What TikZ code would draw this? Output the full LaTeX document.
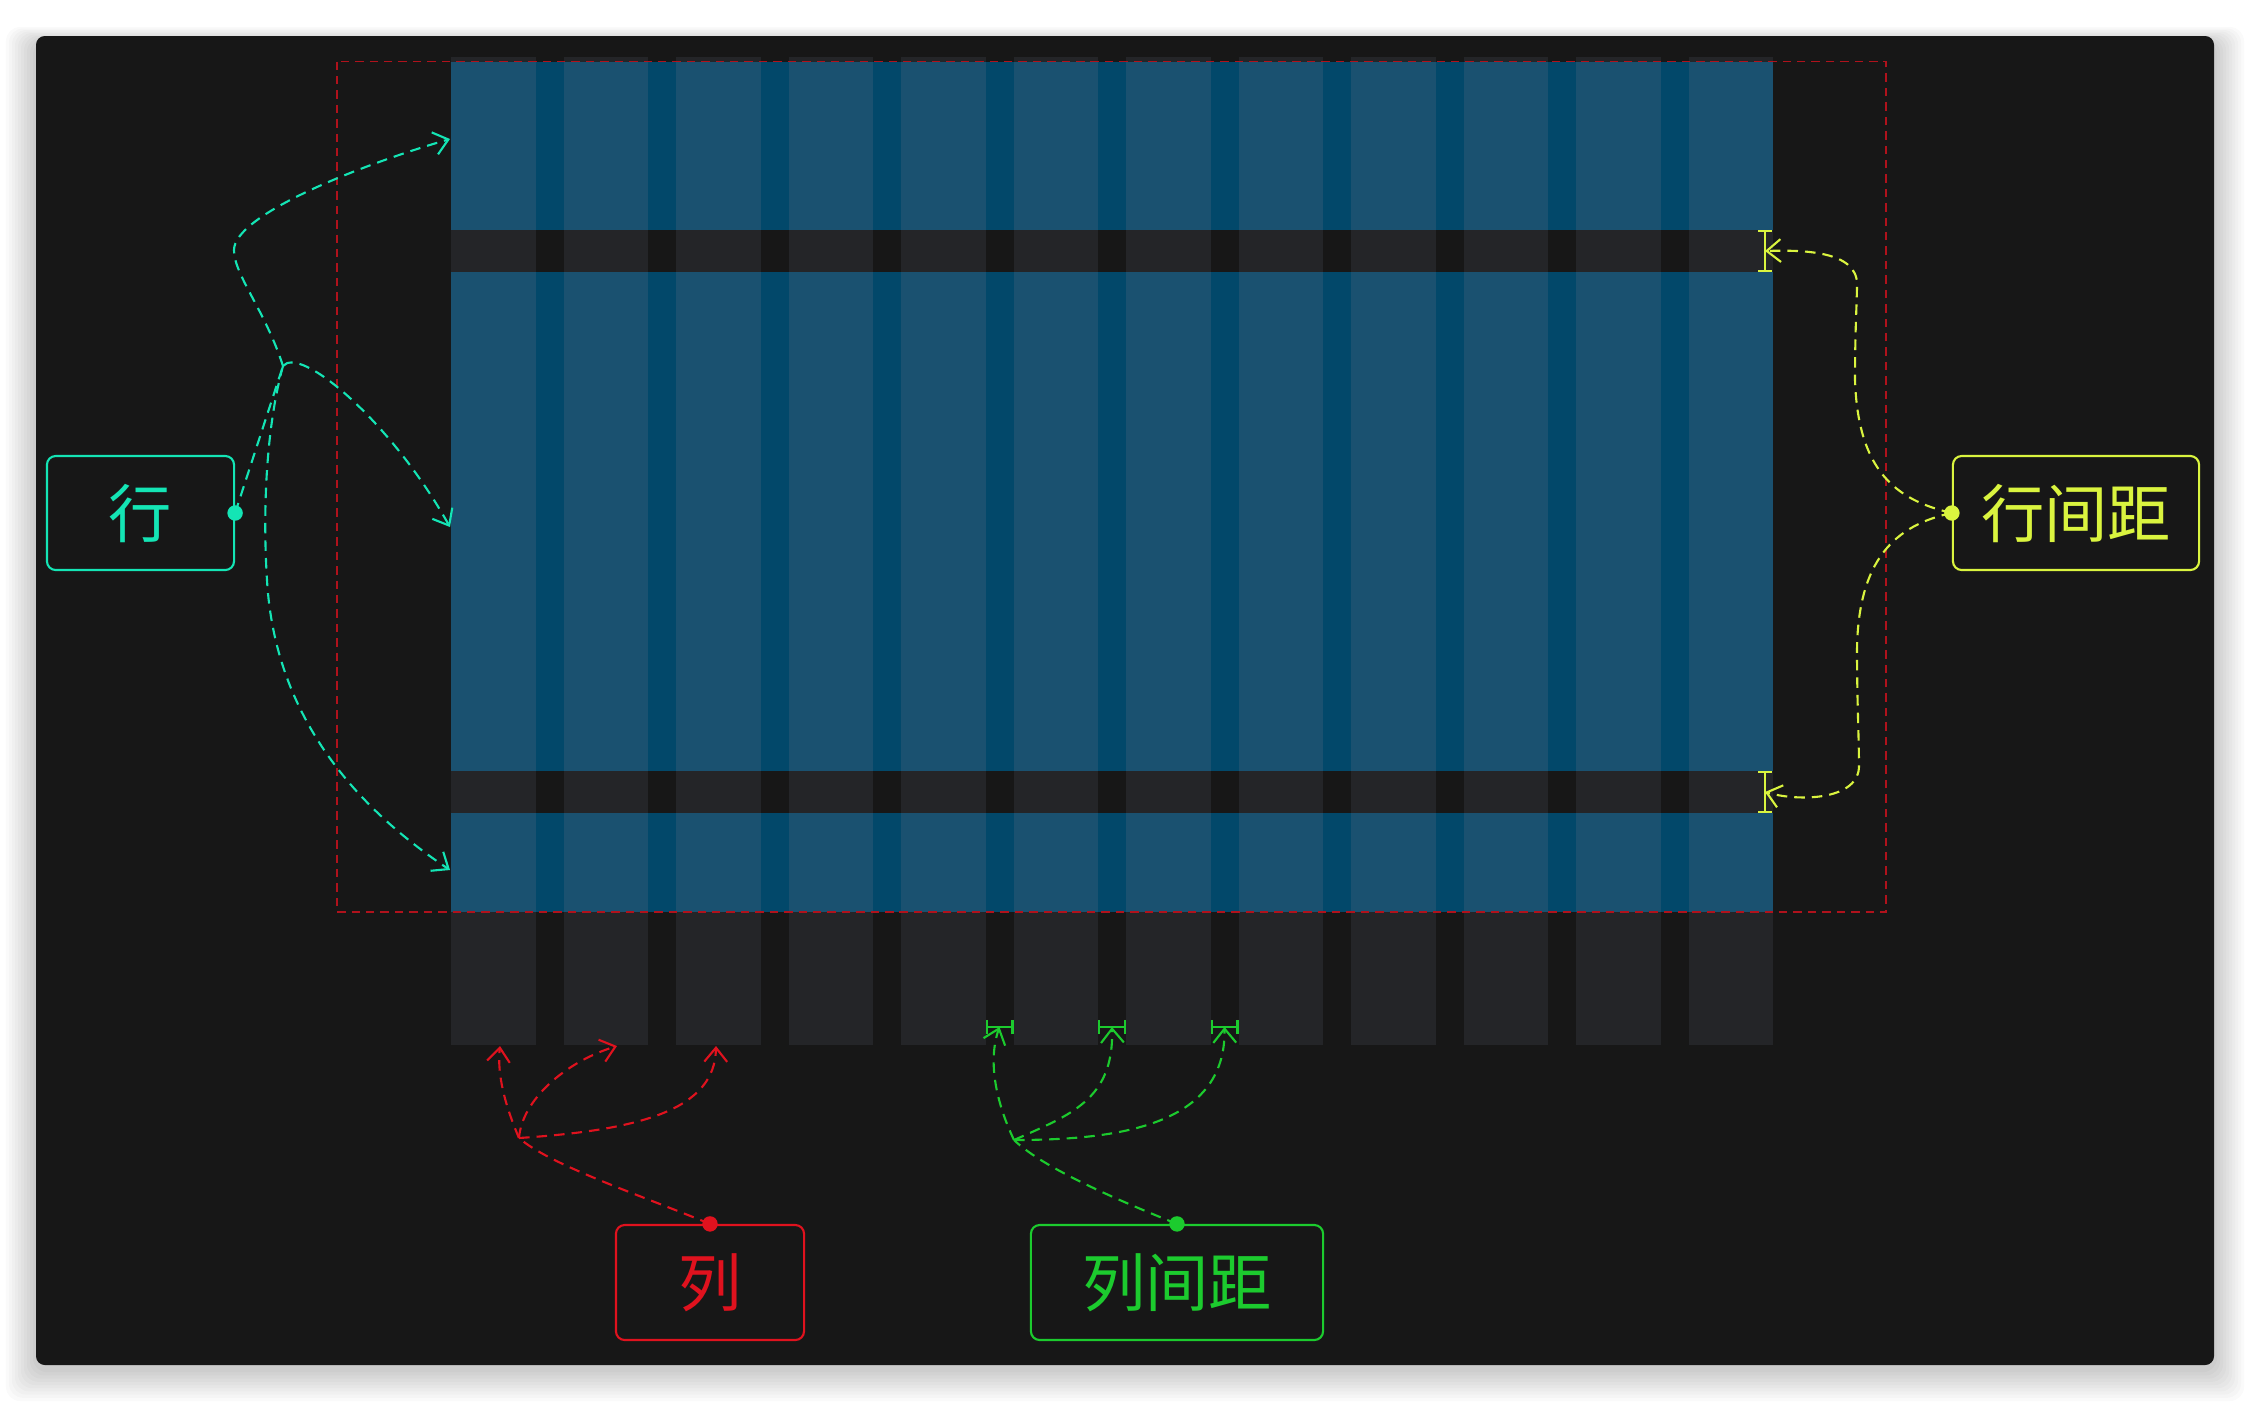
\documentclass[tikz,border=0pt]{standalone}
\usepackage{fontspec}
\newfontfamily\cjk{Noto Sans CJK SC}
\usetikzlibrary{arrows.meta}
\definecolor{canvas}{HTML}{171717}
\definecolor{track}{HTML}{242528}
\definecolor{cell}{HTML}{1A5170}
\definecolor{lane}{HTML}{02486A}
\definecolor{rowc}{HTML}{14E5B5}
\definecolor{gapy}{HTML}{DAF43F}
\definecolor{colc}{HTML}{E0121E}
\definecolor{gapg}{HTML}{1CCB2E}
\definecolor{frame}{HTML}{B0121C}
\tikzset{
  lbox/.style={draw=#1, text=#1, line width=0.6pt, rounded corners=2.5pt, inner sep=0pt,
    font=\cjk\fontsize{18}{21}\selectfont},
  link/.style={draw=#1, line width=0.6pt, dash pattern=on 3pt off 2pt,
    -{Straight Barb[length=4pt,width=6.5pt]}},
  stem/.style={draw=#1, line width=0.6pt, dash pattern=on 3pt off 2pt},
  gapmark/.style={draw=#1, line width=0.6pt, {Bar[width=4pt]}-{Bar[width=4pt]}}
}

\begin{document}
\begin{tikzpicture}[x=0.01cm, y=-0.01cm]
          \useasboundingbox (0,0) rectangle (2250,1402);
          \fill[white] (0,0) rectangle (2250,1402);
          \foreach \s in {1,...,10}
            \fill[black, opacity=0.02, rounded corners=4pt] ({36-3*\s},{42-1.5*\s}) rectangle ({2214+3*\s},{1369+3.2*\s});
          \fill[canvas, rounded corners=2.5pt] (36,36) rectangle (2214,1365);
          \foreach \i in {0,...,11}
            \fill[track] ({451+112.5*\i},57) rectangle ({535.5+112.5*\i},1045);
          \foreach \ya/\yb in {62/230, 272/771, 813/912} {
            \fill[lane] (451,\ya) rectangle (1773,\yb);
            \foreach \i in {0,...,11}
              \fill[cell] ({451+112.5*\i},\ya) rectangle ({535.5+112.5*\i},\yb);
          }
          \draw[frame, line width=0.45pt, dash pattern=on 2.4pt off 1.7pt] (337,61.5) rectangle (1886,912);

          \draw[gapmark=gapy] (1765,230) -- coordinate (rgtip1) (1765,272);
          \draw[gapmark=gapy] (1765,771) -- coordinate (rgtip2) (1765,813);
          \draw[gapmark=gapg] (985.5,1027) -- coordinate (cgtip1) (1013.5,1027);
          \draw[gapmark=gapg] (1098,1027) -- coordinate (cgtip2) (1126,1027);
          \draw[gapmark=gapg] (1210.5,1027) -- coordinate (cgtip3) (1238.5,1027);

          \node[lbox=rowc, minimum width=1.87cm, minimum height=1.14cm] (rowbox) at (140.5,513) {行};
          \node[lbox=gapy, minimum width=2.46cm, minimum height=1.14cm] (rgapbox) at (2076,513) {行间距};
          \node[lbox=colc, minimum width=1.88cm, minimum height=1.15cm] (colbox) at (710,1282.5) {列};
          \node[lbox=gapg, minimum width=2.92cm, minimum height=1.15cm] (cgapbox) at (1177,1282.5) {列间距};

          \coordinate (rowdot) at (rowbox.east);
          \coordinate (rgapdot) at (rgapbox.west);
          \coordinate (coldot) at (colbox.north);
          \coordinate (cgapdot) at (cgapbox.north);
          \coordinate (rowfork) at (283,366);
          \coordinate (colfork) at (519,1138);
          \coordinate (cgapfork) at (1014,1140);
          \coordinate (rowtip1) at (450,139);
          \coordinate (rowtip2) at (450,527);
          \coordinate (rowtip3) at (450,870);
          \coordinate (coltip1) at (500,1046);
          \coordinate (coltip2) at (617,1046);
          \coordinate (coltip3) at (716,1046);

          \draw[stem=rowc] (rowdot) -- (rowfork);
          \draw[link=rowc] (rowfork) .. controls (265,310) and (234,275) .. (234,250)
            .. controls (234,215) and (360,165) .. (rowtip1);
          \draw[link=rowc] (rowfork) .. controls (300,345) and (390,420) .. (rowtip2);
          \draw[link=rowc] (rowfork) .. controls (268,420) and (262,500) .. (267,580)
            .. controls (275,720) and (360,810) .. (rowtip3);

          \draw[stem=colc] (coldot) .. controls (640,1195) and (550,1165) .. (colfork);
          \draw[link=colc] (colfork) .. controls (505,1105) and (497,1075) .. (coltip1);
          \draw[link=colc] (colfork) .. controls (522,1100) and (565,1062) .. (coltip2);
          \draw[link=colc] (colfork) .. controls (640,1130) and (715,1110) .. (coltip3);

          \draw[stem=gapg] (cgapdot) .. controls (1130,1205) and (1045,1170) .. (cgapfork);
          \draw[link=gapg] (cgapfork) .. controls (995,1100) and (988,1060) .. (cgtip1);
          \draw[link=gapg] (cgapfork) .. controls (1070,1115) and (1114,1100) .. (cgtip2);
          \draw[link=gapg] (cgapfork) .. controls (1120,1140) and (1226,1125) .. (cgtip3);

          \draw[link=gapy] (rgapdot) .. controls (1895,500) and (1858,470) .. (1855,380)
            .. controls (1855,330) and (1857,300) .. (1857,285)
            .. controls (1858,250) and (1800,250) .. (rgtip1);
          \draw[link=gapy] (rgapdot) .. controls (1895,525) and (1858,560) .. (1857,650)
            .. controls (1857,700) and (1859,740) .. (1859,765)
            .. controls (1860,800) and (1800,802) .. (rgtip2);

          \filldraw[rowc] (rowdot) circle (0.07cm);
          \filldraw[gapy] (rgapdot) circle (0.07cm);
          \filldraw[colc] (coldot) circle (0.07cm);
          \filldraw[gapg] (cgapdot) circle (0.07cm);
        \end{tikzpicture}
\end{document}
